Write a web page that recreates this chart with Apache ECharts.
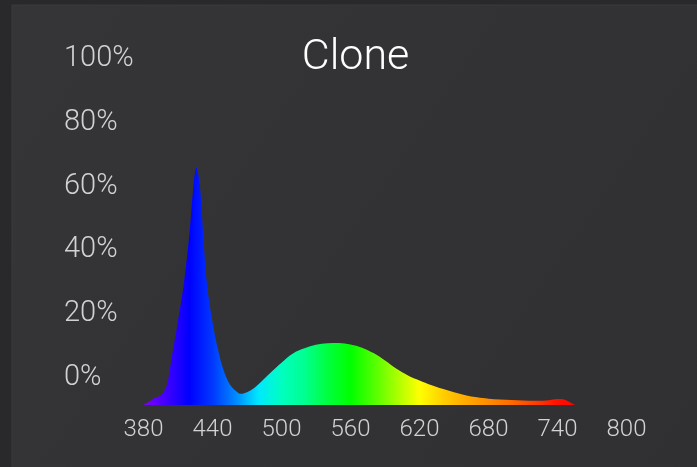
<!DOCTYPE html>
<html>
<head>
<meta charset="utf-8">
<script src="https://cdn.jsdelivr.net/npm/echarts@6/dist/echarts.min.js"></script>
<style>
html,body{margin:0;padding:0;background:#29292b;}
#c{width:697px;height:467px;}
</style>
</head>
<body>
<div id="c"></div>
<script>
var titleText = 'Clone';
var wavelengths = [380,385,390,395,400,405,410,415,420,423,426,429,432,435,440,445,450,455,460,465,470,475,480,490,500,510,520,530,540,550,560,570,580,590,600,610,620,630,640,650,660,670,680,690,700,710,720,730,740,745,750,755];
var intensity   = [0,1.0,2.3,3.0,6.0,16,26.5,38,54,67,74.6,69,53,38.5,26,17,10.5,6.5,4.5,3.5,4.0,5.0,6.5,10,13.3,16.2,17.8,18.9,19.4,19.5,19.0,18.0,16.3,14.0,11.4,9.3,7.7,6.3,5.1,4.0,3.1,2.4,2.0,1.7,1.55,1.4,1.3,1.4,1.9,1.8,1.0,0];
var xTicks = [380,440,500,560,620,680,740,800];
var yTicks = [0,20,40,60,80,100];
// spectrum colours every 20 nm from 380 to 760
var spectrumColors = ['#8000ff','#4000ff','#0000ff','#0038ff','#0088ff','#00e8ff','#00ffc0','#00ff90','#00ff40','#00ff00','#50ff00','#a8ff00','#ffff00','#ffd000','#ffaa00','#ff8c00','#ff6a00','#ff4000','#ff1000','#ff0000'];

var seriesData = wavelengths.map(function(w,i){ return [w, intensity[i]]; });

var chart = echarts.init(document.getElementById('c'), null, {renderer:'canvas'});
var FONT = 'Roboto, "Liberation Sans", sans-serif';
chart.setOption({
  animation:false,
  backgroundColor:'#29292b',
  graphic:[
    {type:'rect', z:-10, shape:{x:12,y:5,width:690,height:470},
     style:{fill:new echarts.graphic.LinearGradient(0,0,1,1,[{offset:0,color:'#353537'},{offset:1,color:'#303032'}]), stroke:'#3a3a3c', lineWidth:1}},
    {type:'text', z:10, style:{text:titleText, x:355.5, y:58, align:'center', verticalAlign:'middle',
      fill:'#ffffff', font:'300 43px ' + FONT}}
  ],
  grid:{left:143.5, right:70.5, top:86.5, bottom:62, containLabel:false, outerBoundsMode:'none'},
  visualMap:{show:false, type:'continuous', dimension:0, min:380, max:760, inRange:{color:spectrumColors}, seriesIndex:0},
  xAxis:{type:'value', min:380, max:800,
    axisLine:{show:false}, axisTick:{show:false}, splitLine:{show:false},
    axisLabel:{customValues:xTicks, color:'#d2d2d2', fontSize:24, fontWeight:300, fontFamily:FONT, margin:13}
  },
  yAxis:{type:'value', min:0, max:100, interval:20,
    axisLine:{show:false}, axisTick:{show:false}, splitLine:{show:false},
    axisLabel:{customValues:yTicks, formatter:'{value}%', color:'#d2d2d2', fontSize:29, fontWeight:300, fontFamily:FONT,
      align:'left', verticalAlign:'bottom', lineHeight:55, margin:79.5}
  },
  series:[{
    type:'line', data:seriesData, smooth:0.35, showSymbol:false,
    lineStyle:{width:0, opacity:0},
    areaStyle:{opacity:1}
  }]
});
</script>
</body>
</html>
